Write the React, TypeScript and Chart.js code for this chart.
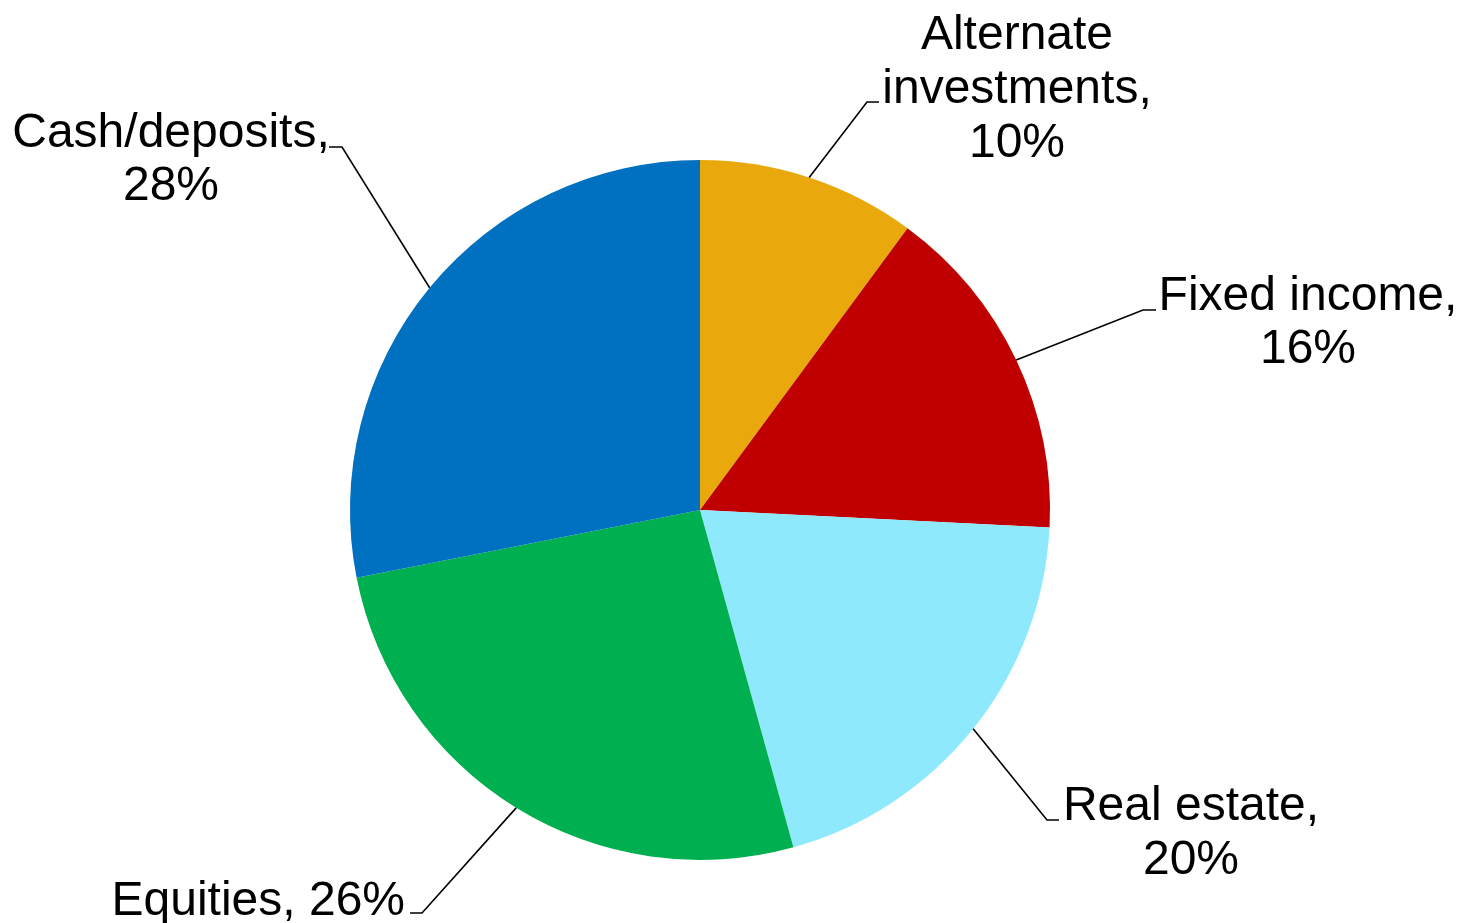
import React, { useEffect, useRef } from "react";
import { Chart, registerables } from "chart.js";

Chart.register(...registerables);

const categories = ["Alternate investments", "Fixed income", "Real estate", "Equities", "Cash/deposits"];
// shares (labels show rounded percentages)
const values = [10.1, 15.7, 19.9, 26.2, 28.1];
const colors = ["#E9A90D", "#C00000", "#8EE9FD", "#00AF50", "#0070C0"];
const labelLines = [
  ["Alternate", "investments,", "10%"],
  ["Fixed income,", "16%"],
  ["Real estate,", "20%"],
  ["Equities, 26%"],
  ["Cash/deposits,", "28%"],
];

// layout: text anchor x, first baseline y, line height, leader elbow and end points
const labelLayout = [
  { x: 1017, y: 49, lh: 54, align: "center", elbow: [867, 102], end: [879, 102] },
  { x: 1308, y: 310, lh: 53, align: "center", elbow: [1143, 310], end: [1156, 310] },
  { x: 1191, y: 820, lh: 54, align: "center", elbow: [1047, 820], end: [1059, 820] },
  { x: 405, y: 915, lh: 54, align: "right", elbow: [422, 913], end: [410, 913] },
  { x: 171, y: 147, lh: 53, align: "center", elbow: [342, 147], end: [329, 147] },
];

const FONT = '48px "Liberation Sans", Arial, sans-serif';

const labelPlugin = {
  id: "pieLabels",
  afterDraw(chart: any) {
    const ctx = chart.ctx;
    const meta = chart.getDatasetMeta(0);
    ctx.save();
    meta.data.forEach((arc: any, i: number) => {
      const p = arc.getProps(["x", "y", "startAngle", "endAngle", "outerRadius"], true);
      const mid = (p.startAngle + p.endAngle) / 2;
      const sx = p.x + Math.cos(mid) * p.outerRadius;
      const sy = p.y + Math.sin(mid) * p.outerRadius;
      const L = labelLayout[i];
      ctx.strokeStyle = "#000";
      ctx.lineWidth = 1.6;
      ctx.beginPath();
      ctx.moveTo(sx, sy);
      ctx.lineTo(L.elbow[0], L.elbow[1]);
      ctx.lineTo(L.end[0], L.end[1]);
      ctx.stroke();
      ctx.fillStyle = "#000";
      ctx.font = FONT;
      ctx.textAlign = L.align;
      ctx.textBaseline = "alphabetic";
      labelLines[i].forEach((t, j) => {
        ctx.fillText(t, L.x, L.y + j * L.lh);
      });
    });
    ctx.restore();
  },
};

export default function App() {
  const ref = useRef<HTMLCanvasElement>(null);
  useEffect(() => {
    document.body.style.margin = "0";
    const chart = new Chart(ref.current!, {
      type: "pie",
      data: {
        labels: categories,
        datasets: [
          {
            data: values,
            backgroundColor: colors,
            borderWidth: 0,
          },
        ],
      },
      options: {
        animation: false,
        responsive: false,
        maintainAspectRatio: false,
        layout: { padding: { left: 350, right: 409, top: 160, bottom: 63 } },
        plugins: {
          legend: { display: false },
          tooltip: { enabled: false },
        },
      },
      plugins: [labelPlugin],
    });
    return () => chart.destroy();
  }, []);
  return (
    <div style={{ position: "absolute", left: 0, top: 0, width: 1459, height: 923, background: "#fff" }}>
      <canvas ref={ref} width={1459} height={923} style={{ width: 1459, height: 923 }} />
    </div>
  );
}
